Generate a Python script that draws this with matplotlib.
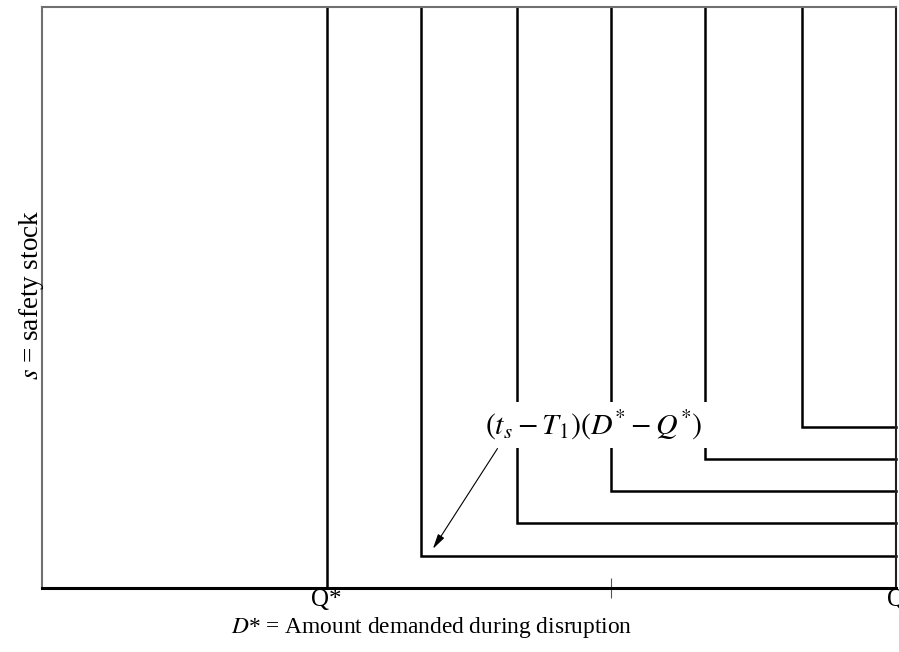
"""Safety stock vs. amount demanded during disruption (step curves)."""
import matplotlib

matplotlib.use("Agg")
import matplotlib.pyplot as plt
from matplotlib.transforms import blended_transform_factory

plt.rcParams["font.family"] = ["Liberation Serif", "DejaVu Serif"]
plt.rcParams["mathtext.fontset"] = "stix"

# D* where each curve turns (Q* = 1, Q = 3) and the safety-stock level it settles at
demand_breaks = [1.0, 1.33, 1.67, 2.0, 2.33, 2.67]
stock_levels = [0, 1, 2, 3, 4, 5]
q_star = 1.0
q_max = 3.0
y_max = 18.0

fig = plt.figure(figsize=(8.99, 6.52), dpi=100)
ax = fig.add_axes([0.0467, 0.0982, 0.95, 0.8911])
ax.set_xlim(0, q_max)
ax.set_ylim(0, y_max)

for d, s in zip(demand_breaks, stock_levels):
    ax.plot([d, d, q_max], [y_max, s, s], color="black", lw=1.8,
            solid_joinstyle="miter", zorder=2, clip_on=False)

ax.text(1.94, 5.05, r"$(t_s - T_1)(D^{*} - Q^{*})$", fontsize=21.5,
        ha="center", va="center", zorder=4,
        bbox=dict(facecolor="white", edgecolor="none", pad=5))
ax.annotate("", xy=(1.373, 1.21), xytext=(1.6, 4.32),
            arrowprops=dict(arrowstyle="-|>,head_length=0.9,head_width=0.22",
                            color="black", lw=0.8, shrinkA=0, shrinkB=0),
            zorder=5)

for side in ("left", "top"):
    ax.spines[side].set_color("#707070")
    ax.spines[side].set_linewidth(1.5)
ax.spines["right"].set_color("#202020")
ax.spines["right"].set_linewidth(1.5)
ax.spines["bottom"].set_color("black")
ax.spines["bottom"].set_linewidth(2.2)

ax.set_xticks([2.0], [""])
ax.set_yticks([])
ax.tick_params(axis="x", direction="inout", length=14, width=0.8, color="#555555")

trans = blended_transform_factory(ax.transData, fig.transFigure)
ax.text(q_star, 0.079, "Q*", transform=trans, ha="center", va="center", fontsize=18)
ax.text(q_max, 0.079, "Q", transform=trans, ha="center", va="center", fontsize=18)
ax.text(1.37, 0.038, r"$D$* = Amount demanded during disruption", transform=trans,
        ha="center", va="center", fontsize=16.8)
fig.text(0.035, 0.547, r"$s$ = safety stock", rotation=90, ha="center", va="center",
         fontsize=19.5)

fig.savefig("out.png", dpi=100)
